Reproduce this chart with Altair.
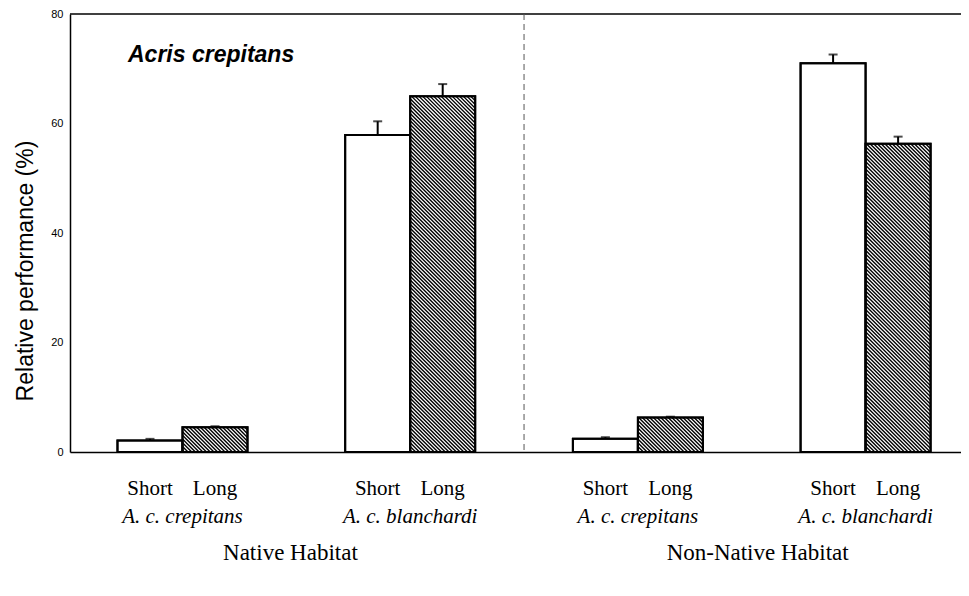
import altair as alt
import pandas as pd

# ---------------- data ----------------
groups = [1, 2, 3, 4]
species = ["A. c. crepitans", "A. c. blanchardi", "A. c. crepitans", "A. c. blanchardi"]
habitats = ["Native Habitat", "Non-Native Habitat"]
habitat_groups = [[1, 2], [3, 4]]
treatments = ["Short", "Long"]
short_vals = [2.1, 57.9, 2.4, 71.0]
long_vals = [4.5, 65.0, 6.3, 56.3]
short_err = [0.3, 2.5, 0.3, 1.6]
long_err = [0.2, 2.2, 0.15, 1.3]
y_ticks = [0, 20, 40, 60, 80]
panel_title = "Acris crepitans"
y_title = "Relative performance (%)"

# ---------------- layout ----------------
W, H = 891, 438
XMIN, XMAX = 0.506, 4.419
YMAX = 80
BAR = 0.2855
px_x = W / (XMAX - XMIN)
px_y = H / YMAX

rows = []
for i, g in enumerate(groups):
    for t, vals, errs in (("Short", short_vals, short_err), ("Long", long_vals, long_err)):
        x0 = g - BAR if t == "Short" else g
        x1 = g if t == "Short" else g + BAR
        rows.append(dict(g=g, t=t, x0=x0, x1=x1, xc=(x0 + x1) / 2,
                         value=vals[i], top=vals[i] + errs[i]))
df = pd.DataFrame(rows)

# diagonal hatch lines for the "Long" bars
hatch = []
STEP = 3.7
for r in rows:
    if r["t"] != "Long":
        continue
    w = (r["x1"] - r["x0"]) * px_x
    h = r["value"] * px_y
    c = STEP / 2
    while c < w + h:
        u0 = max(0.0, c - h)
        u1 = min(w, c)
        hatch.append(dict(hx=r["x0"] + u0 / px_x, hx2=r["x0"] + u1 / px_x,
                          hy=(c - u0) / px_y, hy2=(c - u1) / px_y))
        c += STEP
hdf = pd.DataFrame(hatch)

gdf = pd.DataFrame({"g": groups, "species": species})
habdf = pd.DataFrame({"hab": habitats,
                      "hx": [sum(p) / 2 + (-0.026 if k == 0 else 0.026)
                             for k, p in enumerate(habitat_groups)]})
divider = pd.DataFrame({"x": [(groups[1] + groups[2]) / 2]})
topdf = pd.DataFrame({"y": [YMAX]})

xscale = alt.Scale(domain=[XMIN, XMAX], nice=False, zero=False)
yscale = alt.Scale(domain=[0, YMAX], nice=False)
xaxis = alt.Axis(labels=False, ticks=False, title=None, grid=False,
                 domainColor="black", domainWidth=1.5)
yaxis = alt.Axis(values=y_ticks, title=None, grid=False, ticks=False,
                 labelFont="Liberation Sans", labelFontSize=11, labelPadding=7,
                 labelColor="black", domainColor="black", domainWidth=1.5)

bars = alt.Chart(df).mark_rect(fill="white", stroke="black", strokeWidth=2).encode(
    x=alt.X("x0:Q", scale=xscale, axis=xaxis), x2="x1:Q",
    y=alt.Y("value:Q", scale=yscale, axis=yaxis), y2=alt.datum(0))

hatch_layer = alt.Chart(hdf).mark_rule(stroke="black", strokeWidth=1.4).encode(
    x="hx:Q", x2="hx2:Q", y="hy:Q", y2="hy2:Q")

outline = alt.Chart(df).mark_rect(fill="white", fillOpacity=0, stroke="black",
                                  strokeWidth=2).encode(
    x="x0:Q", x2="x1:Q", y="value:Q", y2=alt.datum(0))

err = alt.Chart(df).mark_rule(stroke="black", strokeWidth=2).encode(
    x="xc:Q", y="value:Q", y2="top:Q")
caps = alt.Chart(df).mark_tick(color="black", orient="horizontal", size=9,
                               thickness=2).encode(x="xc:Q", y="top:Q")

top_rule = alt.Chart(topdf).mark_rule(stroke="black", strokeWidth=1.5).encode(y="y:Q")
dash = alt.Chart(divider).mark_rule(stroke="#555555", strokeWidth=1,
                                    strokeDash=[6, 4]).encode(x="x:Q")

treat_text = alt.Chart(df).mark_text(font="Liberation Serif", fontSize=21,
                                     baseline="middle", color="black").encode(
    x="xc:Q", y=alt.value(475), text="t:N")
species_text = alt.Chart(gdf).mark_text(font="Liberation Serif", fontSize=21,
                                        fontStyle="italic", baseline="middle",
                                        color="black").encode(
    x="g:Q", y=alt.value(503), text="species:N")
hab_text = alt.Chart(habdf).mark_text(font="Liberation Serif", fontSize=23,
                                      baseline="middle", color="black").encode(
    x="hx:Q", y=alt.value(539), text="hab:N")

title_df = pd.DataFrame({"t": [panel_title]})
panel_text = alt.Chart(title_df).mark_text(font="Liberation Sans", fontSize=23,
                                           fontWeight="bold", fontStyle="italic",
                                           align="left", baseline="middle",
                                           color="black").encode(
    x=alt.value(58), y=alt.value(41), text="t:N")

ytitle_df = pd.DataFrame({"t": [y_title]})
ytitle = alt.Chart(ytitle_df).mark_text(font="Liberation Sans", fontSize=23,
                                        angle=270, align="center", baseline="middle",
                                        color="black").encode(
    x=alt.value(-44), y=alt.value(257), text="t:N")

chart = alt.layer(
    bars, hatch_layer, outline, err, caps, top_rule, dash,
    treat_text, species_text, hab_text, panel_text, ytitle
).properties(
    width=W, height=H,
    padding={"left": 62, "top": 6, "right": 0, "bottom": 130},
    autosize=alt.AutoSizeParams(type="none"),
).configure_view(stroke=None)

chart.save("out.html", embed_options={"renderer": "svg", "actions": False})
